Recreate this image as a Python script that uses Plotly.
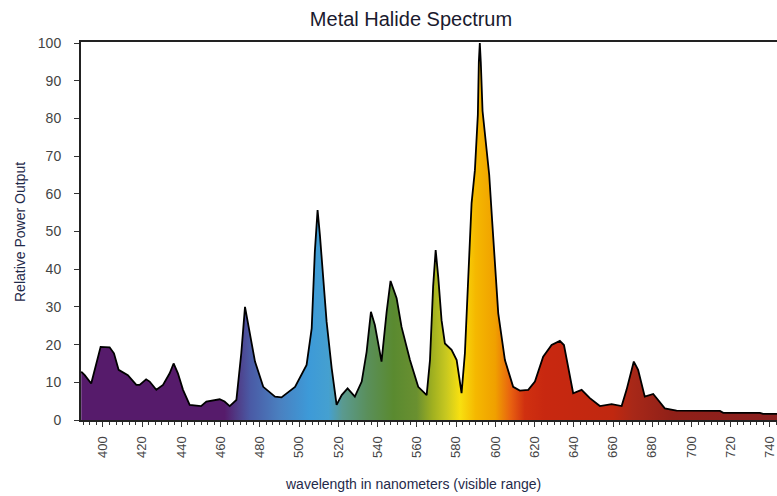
import plotly.graph_objects as go

# wavelength (nm) and relative power output
wavelength = [388.9, 390.7, 394.0, 396.6, 398.8, 403.4, 405.6, 408.0, 412.7, 417.0,
              418.7, 422.0, 423.8, 427.2, 430.6, 434.0, 436.0, 438.2, 440.8, 444.2,
              450.0, 452.7, 459.5, 462.0, 464.6, 468.0, 470.5, 472.4, 475.0, 477.5,
              481.7, 487.7, 491.0, 497.9, 503.8, 506.4, 508.0, 509.4, 510.6, 512.3,
              514.0, 516.6, 519.1, 521.7, 524.7, 528.4, 531.9, 534.4, 536.6, 538.6,
              542.0, 544.6, 546.6, 549.7, 552.2, 556.5, 560.7, 565.0, 566.7, 568.3,
              569.6, 570.9, 572.6, 574.3, 577.7, 580.3, 582.8, 584.5, 586.2, 587.9,
              589.6, 590.5, 591.1, 591.6, 592.1, 592.6, 593.5, 595.2, 596.9, 598.5,
              601.5, 604.9, 609.1, 612.5, 616.8, 620.2, 624.4, 628.7, 632.9, 635.0,
              638.0, 639.7, 644.0, 648.2, 653.3, 659.3, 664.4, 666.9, 670.6, 672.8,
              676.2, 680.5, 683.0, 686.4, 692.4, 714.5, 716.2, 734.9, 736.5, 743.6]
power = [12.8, 11.9, 9.7, 15.0, 19.4, 19.3, 17.7, 13.3, 11.9, 9.3,
         9.3, 10.8, 10.2, 8.0, 9.3, 12.4, 15.0, 12.4, 8.0, 4.0,
         3.7, 4.9, 5.5, 4.9, 3.7, 5.3, 17.7, 30.0, 22.5, 15.5,
         8.8, 6.2, 6.0, 8.8, 14.6, 24.3, 44.6, 55.7, 49.0, 37.6,
         26.1, 13.7, 4.0, 6.6, 8.4, 6.2, 10.2, 18.1, 28.7, 25.2,
         15.5, 28.7, 36.9, 32.3, 24.7, 15.9, 8.8, 6.6, 15.9, 35.4,
         45.1, 38.0, 26.5, 20.3, 18.6, 15.9, 7.1, 17.7, 39.8, 57.5,
         66.3, 77.0, 81.0, 95.0, 100.0, 95.0, 82.0, 73.5, 65.0, 52.0,
         28.3, 15.9, 8.8, 7.8, 8.0, 10.2, 16.8, 19.9, 21.0, 19.9,
         11.5, 7.1, 8.0, 5.8, 3.7, 4.2, 3.7, 8.0, 15.5, 13.3,
         6.2, 6.9, 5.3, 3.1, 2.5, 2.4, 1.9, 1.9, 1.6, 1.6]

x_ticks = list(range(400, 741, 20))
y_ticks = list(range(0, 101, 10))

# spectrum colour stops (wavelength, colour)
stop_nm = [388.9, 462, 468, 475, 490, 505, 515, 522, 535, 548, 560, 568, 575,
           582, 590, 600, 608, 615, 625, 660, 670, 690, 743.6]
stop_col = ["#561b6b", "#561b6b", "#503a85", "#4a5aa5", "#4a80c0", "#3d9ad8",
            "#45a0d0", "#5a9a90", "#5a8f5a", "#5a8a30", "#6a9030", "#a0b020",
            "#c8c820", "#f8e010", "#f5b800", "#f0a000", "#e86010", "#d03010",
            "#c82810", "#c02810", "#a82818", "#902018", "#8a2020"]

lo, hi = stop_nm[0], stop_nm[-1]
colorscale = [[(w - lo) / (hi - lo), c] for w, c in zip(stop_nm, stop_col)]

fig = go.Figure()
fig.add_trace(go.Scatter(
    x=wavelength, y=power, mode="lines", fill="tozeroy",
    line=dict(color="black", width=1.8),
    fillgradient=dict(type="horizontal", colorscale=colorscale, start=lo, stop=hi),
    showlegend=False, hoverinfo="x+y",
))

PL, PR, PT, PB = 81, 777, 42, 420
pw, ph = PR - PL, PB - PT

fig.update_layout(
    width=777, height=496,
    margin=dict(l=PL, r=777 - PR, t=PT, b=496 - PB, autoexpand=False),
    paper_bgcolor="white", plot_bgcolor="white",
    font=dict(family="Liberation Sans, Arial, sans-serif", color="#333333"),
    title=dict(text="Metal Halide Spectrum", x=411 / 777, xref="container", xanchor="center",
               y=1 - 19 / 496, yref="container", yanchor="middle",
               font=dict(size=20, color="#1a1a2e")),
    xaxis=dict(range=[388.8, 743.6], tickvals=x_ticks, ticktext=[str(v) for v in x_ticks],
               tickangle=-90, tickfont=dict(size=13, color="#444444"),
               ticks="outside", ticklen=5, tickcolor="#333333", ticklabelstandoff=4,
               ticklabeloverflow="allow",
               minor=dict(dtick=10 / 3, tick0=400, ticks="outside", ticklen=3, tickcolor="#333333"),
               showline=True, linecolor="#222222", linewidth=2, mirror=True,
               showgrid=False, zeroline=False, automargin=False),
    yaxis=dict(range=[0, 100.3], tickvals=y_ticks, tickfont=dict(size=14, color="#444444"),
               ticks="outside", ticklen=5, tickcolor="#333333", ticklabelstandoff=10,
               showline=True, linecolor="#222222", linewidth=2,
               showgrid=False, zeroline=False, automargin=False),
    annotations=[
        dict(text="wavelength in nanometers (visible range)", xref="paper", yref="paper",
             x=(413 - PL) / pw, y=-(484 - PB) / ph, xanchor="center", yanchor="middle",
             showarrow=False, font=dict(size=14, color="#1f2a4a")),
        dict(text="Relative Power Output", xref="paper", yref="paper", textangle=-90,
             x=(20 - PL) / pw, y=(PB - 232) / ph, xanchor="center", yanchor="middle",
             showarrow=False, font=dict(size=14, color="#1f2a4a")),
    ],
)

fig.write_html("out.html", config={"displayModeBar": False},
               post_script="document.body.style.margin='0';document.body.style.overflow='hidden';")
